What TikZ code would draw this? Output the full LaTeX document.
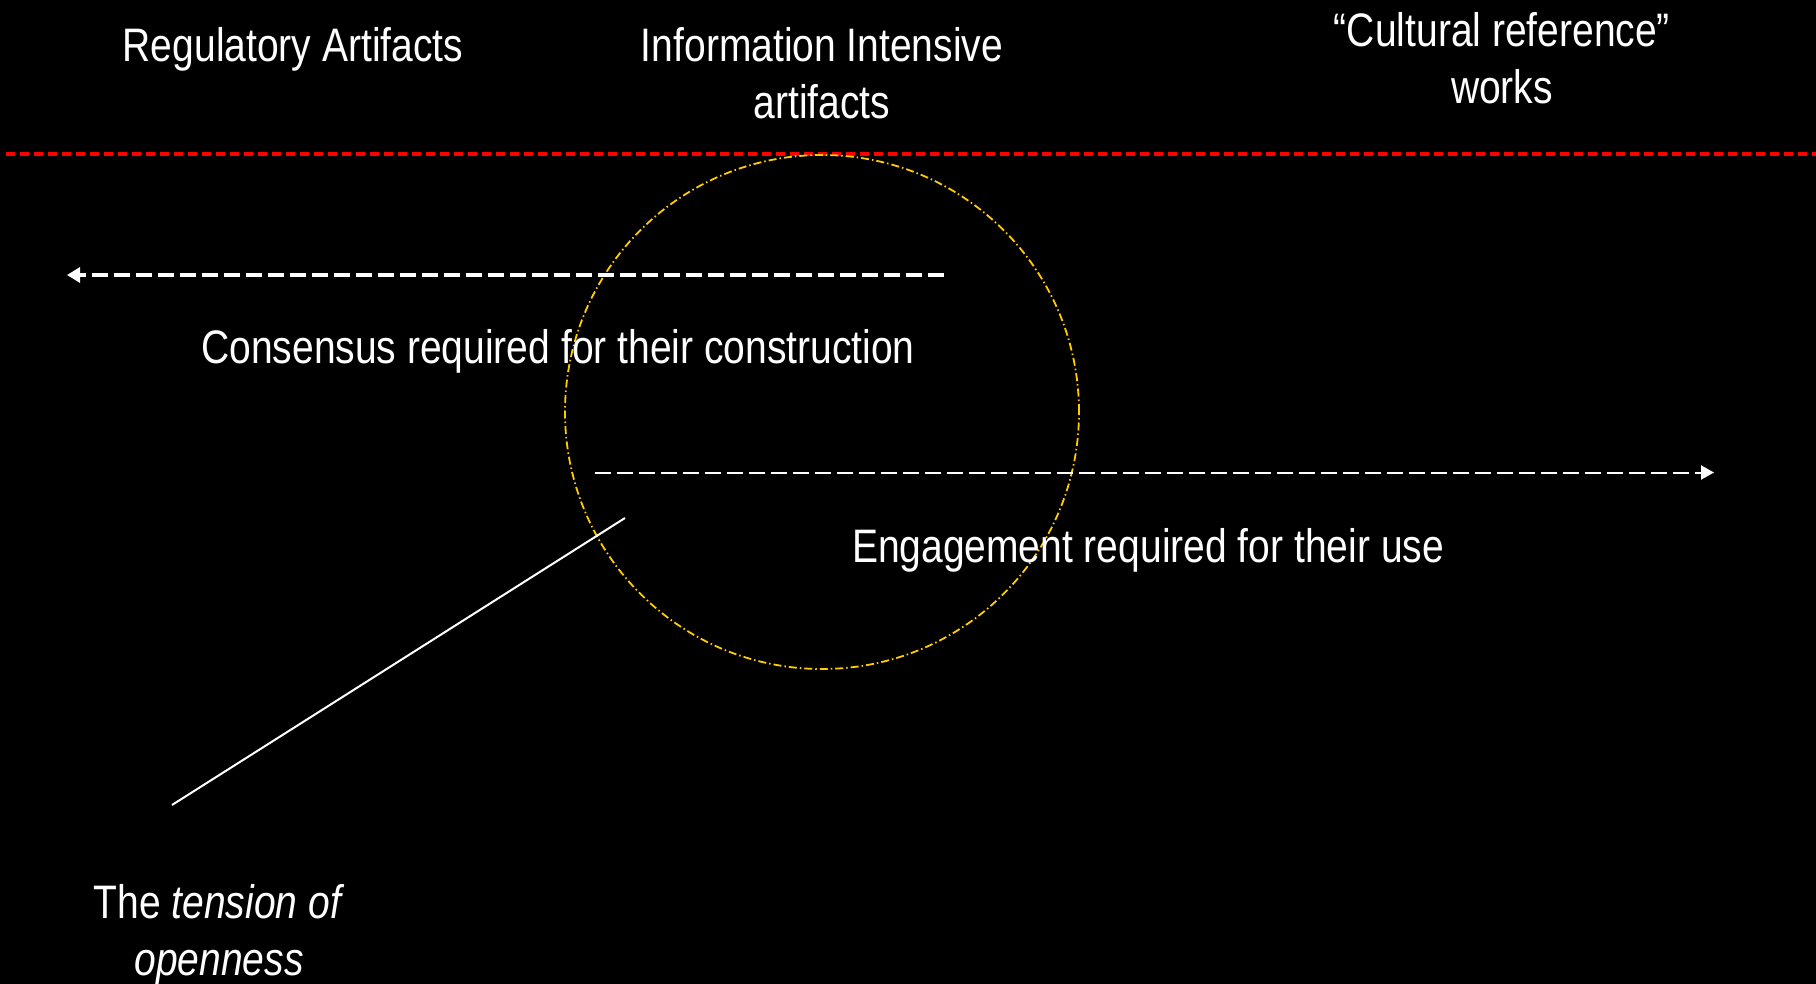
\documentclass[tikz,border=0pt]{standalone}
\usepackage{fontspec}
\setmainfont{Liberation Sans}[FakeStretch=0.83]
\usetikzlibrary{arrows.meta}
\definecolor{gold}{RGB}{255,204,0}
\begin{document}
\begin{tikzpicture}[x=1pt,y=-1pt,
  lbl/.style={text=white,font=\fontsize{47}{56.5}\selectfont,inner sep=0pt,anchor=base,align=center},
  reddash/.style={draw=red,line width=3.4pt,dash pattern=on 8.5pt off 5.5pt},
  thickarrow/.style={draw=white,line width=3.3pt,dash pattern=on 16pt off 6pt,-{Triangle[length=13pt,width=15pt]}},
  thinarrow/.style={draw=white,line width=2pt,dash pattern=on 16pt off 6pt,-{Triangle[length=13pt,width=14pt]}},
  ring/.style={circle,draw=gold,line width=1.8pt,dash pattern=on 8pt off 3pt on 1.5pt off 3pt,minimum size=514pt,inner sep=0pt},
  pointer/.style={draw=white,line width=2pt}]
\fill[black] (0,0) rectangle (1816,984);
\useasboundingbox (0,0) rectangle (1816,984);

% headings (multi-line nodes: base = baseline of last line)
\node[lbl] (reg) at (293,62) {Regulatory Artifacts};
\node[lbl] (info) at (822,118.5) {Information Intensive\\artifacts};
\node[lbl] (cult) at (1502,103.5) {“Cultural reference”\\works};

% red separator
\coordinate (redL) at (6,154);
\coordinate (redR) at (1816,154);
\draw[reddash] (redL) -- (redR);

% circle
\node[ring] (circ) at (822,412) {};

% arrows
\coordinate (consA) at (944,275);
\coordinate (consB) at (67,275);
\draw[thickarrow] (consA) -- (consB);
\node[lbl] (cons) at (558,364) {Consensus required for their construction};

\coordinate (engA) at (595,472.5);
\coordinate (engB) at (1714,472.5);
\draw[thinarrow] (engA) -- (engB);
\node[lbl] (eng) at (1148,562) {Engagement required for their use};

% tension pointer
\coordinate (ptrA) at (625,518);
\coordinate (ptrB) at (172,805);
\draw[pointer] (ptrA) -- (ptrB);
\node[lbl] (tens) at (219,975) {The \textit{tension of}\\\textit{openness}};
\end{tikzpicture}
\end{document}
